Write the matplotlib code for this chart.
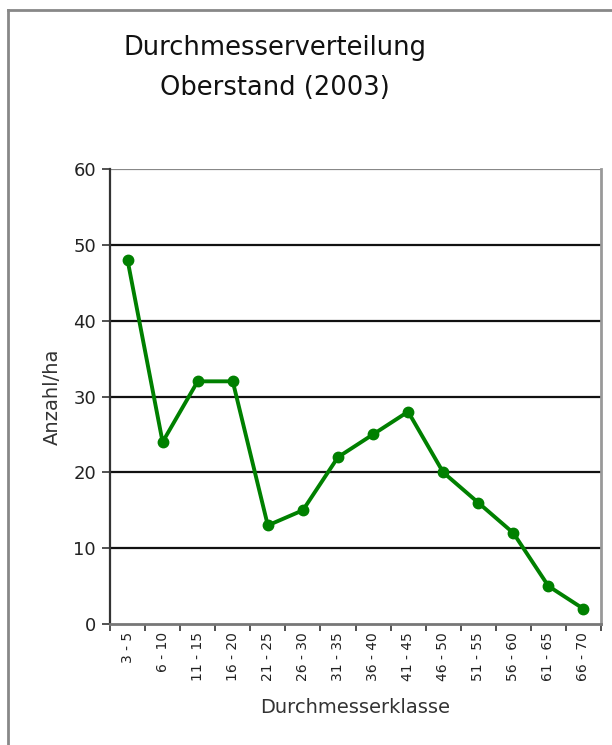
import matplotlib
matplotlib.use("Agg")
import matplotlib.pyplot as plt
from matplotlib.lines import Line2D

categories = ["3 - 5", "6 - 10", "11 - 15", "16 - 20", "21 - 25", "26 - 30", "31 - 35",
              "36 - 40", "41 - 45", "46 - 50", "51 - 55", "56 - 60", "61 - 65", "66 - 70"]
values = [48, 24, 32, 32, 13, 15, 22, 25, 28, 20, 16, 12, 5, 2]
yticks = [0, 10, 20, 30, 40, 50, 60]

plt.rcParams['font.family'] = ['DejaVu Sans']

fig = plt.figure(figsize=(6.12, 7.45), dpi=100)
ax = fig.add_axes([110/612, 1-624/745, (601-110)/612, (624-169)/745])

x = list(range(len(categories)))
ax.plot(x, values, color='#008000', lw=2.8, marker='o', ms=7.5, zorder=3)

ax.set_xlim(-0.5, len(categories)-0.5)
ax.set_ylim(0, 60)
ax.set_yticks(yticks)
ax.set_yticklabels([str(v) for v in yticks], fontsize=13, color='#222222')
for v in yticks[1:]:
    ax.axhline(v, color='#111111' if v < 60 else '#888888', lw=1.6, zorder=1)

ax.set_xticks([i - 0.5 for i in range(len(categories)+1)])
ax.set_xticklabels([])
ax.set_xticks(x, minor=True)
ax.set_xticklabels(categories, minor=True, rotation=90, fontsize=10, color='#222222')
ax.tick_params(axis='x', which='minor', length=0, pad=6)
ax.tick_params(axis='x', which='major', length=5, width=1.2, color='#333333', direction='out')
ax.tick_params(axis='y', length=6, width=1.2, color='#333333', direction='out', pad=4)

ax.spines['left'].set_color('#333333')
ax.spines['left'].set_linewidth(1.6)
ax.spines['bottom'].set_color('#777777')
ax.spines['bottom'].set_linewidth(2)
ax.spines['right'].set_color('#999999')
ax.spines['right'].set_linewidth(2)
ax.spines['top'].set_visible(False)

ax.set_ylabel("Anzahl/ha", fontsize=14, color='#333333', labelpad=8)
ax.set_xlabel("Durchmesserklasse", fontsize=14, color='#333333', labelpad=12)

fig.text(275/612, 1-48/745, "Durchmesserverteilung", ha='center', va='center', fontsize=18.5, color='#111111')
fig.text(275/612, 1-88/745, "Oberstand (2003)", ha='center', va='center', fontsize=18.5, color='#111111')

# chart frame
fig.add_artist(Line2D([8/612, 8/612], [0, 1-10/745], transform=fig.transFigure, color='#888888', lw=2))
fig.add_artist(Line2D([8/612, 1], [1-10/745, 1-10/745], transform=fig.transFigure, color='#888888', lw=2))

fig.savefig("out.png", dpi=100)
